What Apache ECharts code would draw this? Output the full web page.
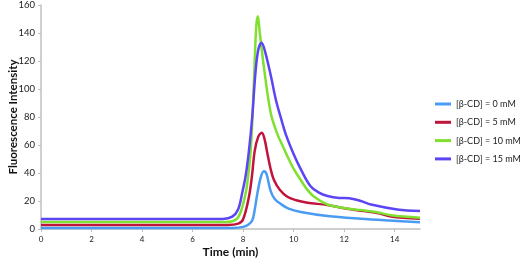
<!DOCTYPE html>
<html>
<head>
<meta charset="utf-8">
<script src="https://cdn.jsdelivr.net/npm/echarts@6/dist/echarts.min.js"></script>
<style>html,body{margin:0;padding:0;background:#fff;}#c{width:520px;height:262px;}</style>
</head>
<body>
<div id="c"></div>
<script>
var seriesNames = ['[β-CD] = 0 mM', '[β-CD] = 5 mM', '[β-CD] = 10 mM', '[β-CD] = 15 mM'];
var xTicks = [0, 2, 4, 6, 8, 10, 12, 14];
var yTicks = [0, 20, 40, 60, 80, 100, 120, 140, 160];

var cd0 = [[0,0.8],[7.6,0.8],[8.0,1.5],[8.2,3],[8.36,6],[8.46,14],[8.56,25],[8.7,37],[8.82,41.2],[8.92,39.5],[9.09,27],[9.25,21.5],[9.48,18],[9.8,14.5],[10.28,12.2],[11.34,9.3],[12.66,7.3],[13.8,6],[15,4.8]];
var cd5 = [[0,2.8],[7.4,2.8],[7.8,3.8],[8.0,7],[8.23,23],[8.35,38],[8.46,56],[8.6,66],[8.74,68.8],[8.85,64],[8.96,54],[9.1,42],[9.22,35],[9.45,28],[9.75,23],[10.1,20.5],[10.54,18.8],[11.34,17.1],[12,14.8],[12.66,13],[13.3,11.5],[13.85,9],[15,7.3]];
var cd10 = [[0,5],[7.3,5],[7.7,6.5],[7.9,12],[8.1,25.5],[8.2,38],[8.3,56],[8.37,80],[8.45,116],[8.52,145],[8.58,152],[8.66,140],[8.82,116],[9.09,83],[9.35,68],[9.55,60],[9.75,52],[10.0,43],[10.28,35],[10.5,29],[10.81,23],[11.34,17.5],[12,15],[12.66,13.5],[13.3,12],[13.85,9.8],[15,8.1]];
var cd15 = [[0,7.2],[7.2,7.2],[7.57,8.8],[7.8,14],[7.96,25.5],[8.1,38],[8.23,56],[8.36,80],[8.49,112],[8.6,128],[8.73,133],[8.85,128],[9.09,110],[9.3,92],[9.5,79],[9.7,67],[10.01,53],[10.3,42],[10.67,30.5],[11.0,26],[11.34,23.6],[11.8,22.2],[12.2,22],[12.66,20],[13.06,17.5],[14.1,14],[15,12.9]];

var colors = ['#4a9cf2', '#c0143c', '#80e030', '#5c45f5'];
var allData = [cd0, cd5, cd10, cd15];

var chart = echarts.init(document.getElementById('c'));
var font = 'Lato, "Open Sans", sans-serif';
chart.setOption({
  animation: false,
  textStyle: { fontFamily: font },
  grid: { left: 41, right: 100, top: 5, bottom: 33, containLabel: false, outerBoundsMode: 'none' },
  legend: {
    orient: 'vertical',
    left: 435,
    top: 98,
    padding: 0,
    itemWidth: 16,
    itemHeight: 3,
    itemGap: 6.3,
    icon: 'rect',
    textStyle: { fontSize: 9, color: '#222', fontFamily: font, lineHeight: 12 },
    data: seriesNames
  },
  xAxis: {
    type: 'value',
    min: 0, max: 15, interval: 2,
    name: 'Time (min)',
    nameLocation: 'middle',
    nameGap: 17,
    nameMoveOverlap: false,
    nameTextStyle: { fontSize: 12, fontWeight: 'bold', color: '#111', fontFamily: font },
    axisLine: { show: true, lineStyle: { color: '#c0c0c0', width: 1.5 } },
    axisTick: { show: true, length: 3, lineStyle: { color: '#c0c0c0' } },
    axisLabel: { fontSize: 8, color: '#222', margin: 6, showMaxLabel: false,
      formatter: function (v) { return xTicks.indexOf(v) >= 0 ? String(v) : ''; } },
    splitLine: { show: false }
  },
  yAxis: {
    type: 'value',
    min: 0, max: 160, interval: 20,
    name: 'Fluorescence Intensity',
    nameLocation: 'middle',
    nameGap: 22,
    nameMoveOverlap: false,
    nameTextStyle: { fontSize: 11.5, fontWeight: 'bold', color: '#111', fontFamily: font },
    axisLine: { show: true, lineStyle: { color: '#c0c0c0', width: 1.5 } },
    axisTick: { show: true, length: 3, lineStyle: { color: '#c0c0c0' } },
    axisLabel: { fontSize: 9.5, color: '#222', margin: 6,
      formatter: function (v) { return yTicks.indexOf(v) >= 0 ? String(v) : ''; } },
    splitLine: { show: false }
  },
  series: seriesNames.map(function (n, i) {
    return {
      name: n, type: 'line', data: allData[i],
      smooth: 0.35, showSymbol: false,
      lineStyle: { color: colors[i], width: 2.5 },
      itemStyle: { color: colors[i] }
    };
  })
});
</script>
</body>
</html>
